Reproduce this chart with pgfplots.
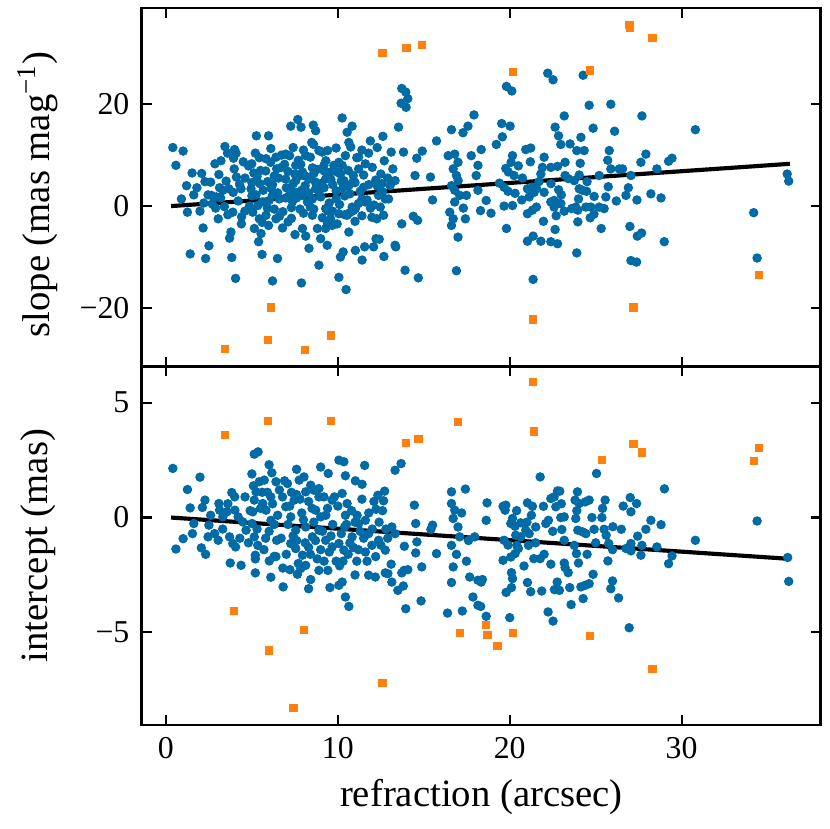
\documentclass[border=0pt]{standalone}
\usepackage{fontspec}
\setmainfont{Liberation Serif}
\usepackage{pgfplots}
\usepackage{pgfplotstable}
\pgfplotsset{compat=1.18}

\definecolor{cblue}{RGB}{0,107,164}
\definecolor{corange}{RGB}{255,128,14}

% slope vs refraction, main sample
\pgfplotstableread[row sep=\\]{x y\\
0.40 11.5\\ 1.00 10.8\\ 0.58 8.0\\ 1.52 6.5\\ 2.08 6.4\\ 2.27 4.8\\ 1.62 2.2\\ 1.25 -1.2\\ 1.98 -1.0\\ 2.16 -4.3\\
2.50 -7.8\\ 1.41 -9.4\\ 2.31 -10.3\\ 2.85 8.3\\ 3.08 6.2\\ 3.43 11.7\\ 3.58 10.4\\ 3.99 11.1\\ 4.08 10.4\\ 3.93 9.4\\
3.97 7.3\\ 3.12 3.6\\ 3.31 3.1\\ 3.66 3.4\\ 3.91 2.7\\ 4.28 4.3\\ 4.37 3.4\\ 2.45 2.2\\ 2.64 2.1\\ 2.93 1.8\\
3.18 1.6\\ 2.89 -0.4\\ 3.04 -2.5\\ 3.60 -1.7\\ 3.89 -1.2\\ 3.78 -5.1\\ 3.70 -6.3\\ 4.39 -3.5\\ 3.83 -10.1\\ 4.05 -14.2\\
4.59 -1.0\\ 4.86 0.0\\ 5.20 10.4\\ 5.26 13.8\\ 5.97 13.8\\ 4.99 8.3\\ 5.11 6.5\\ 5.43 9.5\\ 5.82 9.3\\ 6.09 8.6\\
6.40 9.6\\ 6.72 10.0\\ 6.97 10.2\\ 7.26 15.7\\ 7.67 17.0\\ 7.86 15.5\\ 7.40 11.5\\ 7.19 9.9\\ 7.55 8.0\\ 7.84 8.2\\
7.94 6.7\\ 8.13 9.9\\ 8.48 12.5\\ 8.57 15.9\\ 8.71 14.8\\ 8.59 12.1\\ 8.90 10.9\\ 9.09 10.6\\ 9.40 10.9\\ 9.19 8.0\\
8.52 7.5\\ 8.32 5.3\\ 7.80 6.0\\ 7.55 5.0\\ 7.26 3.1\\ 6.97 5.3\\ 6.55 5.5\\ 6.44 7.3\\ 5.92 4.8\\ 5.47 4.4\\
4.95 3.4\\ 5.24 2.2\\ 5.66 3.1\\ 6.11 3.5\\ 6.20 2.1\\ 6.59 1.4\\ 6.97 1.6\\ 7.36 0.9\\ 7.55 2.7\\ 7.94 2.1\\
8.23 0.8\\ 8.52 1.4\\ 8.71 3.4\\ 9.00 4.4\\ 9.29 5.3\\ 9.58 6.7\\ 9.77 8.0\\ 10.06 8.6\\ 10.25 17.3\\ 10.54 14.5\\
10.83 15.7\\ 10.64 12.5\\ 10.75 11.6\\ 10.44 9.9\\ 10.25 8.0\\ 10.15 6.3\\ 10.35 5.0\\ 10.64 4.0\\ 10.92 5.0\\ 11.21 7.3\\
11.21 9.6\\ 11.60 8.3\\ 11.79 10.4\\ 11.89 12.8\\ 12.29 11.5\\ 12.62 13.7\\ 13.10 10.6\\ 13.53 15.5\\ 13.82 10.6\\ 13.72 23.1\\
13.95 22.4\\ 14.07 21.1\\ 13.68 20.2\\ 13.97 19.4\\ 14.59 9.4\\ 14.91 10.8\\ 14.49 6.0\\ 15.39 5.7\\ 15.74 12.8\\ 16.61 15.0\\
17.28 14.4\\ 17.57 15.7\\ 17.92 17.9\\ 16.42 9.9\\ 16.80 10.2\\ 16.99 8.6\\ 16.71 7.3\\ 16.90 6.0\\ 16.61 4.0\\ 17.09 2.1\\
16.80 0.8\\ 17.48 2.1\\ 17.76 9.9\\ 18.34 11.1\\ 18.15 8.0\\ 18.05 6.0\\ 18.15 3.1\\ 18.63 1.1\\ 15.51 1.2\\
5.34 0.1\\ 5.05 -1.2\\ 5.43 -2.5\\ 5.82 -1.8\\ 5.14 -4.4\\ 5.53 -5.4\\ 5.39 -7.0\\ 5.59 -9.5\\ 6.49 -10.3\\ 6.20 -14.7\\
5.97 -3.8\\ 6.40 -2.5\\ 6.78 -4.3\\ 7.11 -3.1\\ 7.51 -5.6\\ 7.94 -4.4\\ 8.13 -5.9\\ 8.32 -8.3\\ 8.52 -1.8\\ 8.81 -4.4\\
9.00 -6.4\\ 9.29 -4.4\\ 9.38 -7.7\\ 8.90 -11.6\\ 7.88 -15.1\\ 9.29 -0.5\\ 9.58 -2.5\\ 9.67 -3.8\\ 9.96 -3.5\\ 10.06 -1.5\\
10.64 -5.1\\ 10.54 -1.8\\ 10.83 -0.2\\ 11.02 -0.5\\ 11.41 1.4\\ 11.60 0.8\\ 11.98 -2.2\\ 12.27 -2.5\\ 12.47 -0.2\\ 12.66 -1.8\\
12.76 1.4\\ 12.95 1.4\\ 12.37 2.1\\ 12.56 4.4\\ 13.04 4.0\\ 13.33 5.0\\ 12.22 -6.4\\ 12.41 -6.5\\ 12.08 -8.0\\ 11.02 -8.7\\
11.56 -8.0\\ 12.68 -9.9\\ 13.33 -7.7\\ 13.37 -8.0\\ 13.72 -3.5\\ 14.39 -2.0\\ 14.64 -2.8\\ 10.31 -9.0\\ 10.15 -10.0\\ 10.06 -14.0\\
10.48 -16.4\\ 11.41 -10.6\\ 13.91 -12.6\\ 14.68 -14.1\\ 16.90 -12.7\\ 16.99 -6.1\\ 16.61 -3.8\\ 16.71 -2.5\\ 16.51 -1.2\\ 17.42 -2.5\\
4.6 5.5\\ 4.8 7.9\\ 5.0 2.0\\ 5.3 5.8\\ 5.6 0.8\\ 5.8 6.9\\ 6.0 1.1\\ 6.2 4.2\\ 6.3 -0.6\\ 6.5 2.6\\
6.7 7.6\\ 6.8 -1.1\\ 7.0 3.6\\ 7.1 6.8\\ 7.3 -0.3\\ 7.4 4.4\\ 7.6 1.6\\ 7.7 9.0\\ 7.9 3.1\\ 8.0 -1.4\\
8.1 5.9\\ 8.3 2.6\\ 8.4 9.6\\ 8.6 -0.6\\ 8.7 4.7\\ 8.8 7.2\\ 9.0 1.8\\ 9.1 -2.3\\ 9.2 3.6\\ 9.3 8.9\\
9.5 0.6\\ 9.6 5.2\\ 9.7 -1.0\\ 9.9 3.0\\ 10.0 6.6\\ 10.1 0.3\\ 10.3 3.6\\ 10.4 -1.7\\ 10.6 7.0\\ 10.7 2.4\\
10.9 -0.9\\ 11.0 4.6\\ 11.1 9.5\\ 11.3 2.9\\ 11.4 -1.9\\ 11.5 6.1\\ 11.7 1.2\\ 11.8 4.2\\ 12.0 7.6\\ 12.1 0.2\\
12.3 3.9\\ 12.5 6.3\\ 12.7 8.9\\ 12.9 5.5\\ 13.2 7.3\\ 3.5 4.9\\ 4.2 1.0\\ 4.4 -2.1\\ 3.4 -0.1\\ 2.7 0.4\\
2.2 0.6\\ 1.8 3.6\\
5.0 4.6\\ 5.5 7.0\\ 5.9 -0.4\\ 6.3 5.9\\ 6.6 -2.0\\ 6.9 8.2\\ 7.2 2.2\\ 7.5 6.3\\ 7.8 -0.6\\ 8.1 4.0\\
8.4 -0.2\\ 8.6 6.4\\ 8.9 2.8\\ 9.2 6.9\\ 9.4 -0.9\\ 9.7 4.2\\ 9.9 1.4\\ 10.2 4.9\\ 10.4 2.0\\ 10.7 -1.3\\
10.9 6.0\\ 11.2 0.5\\ 11.5 3.7\\ 11.9 -0.4\\ 12.2 5.1\\ 12.6 2.8\\ 4.1 5.7\\ 4.5 8.7\\ 3.2 8.9\\ 2.6 4.7\\
1.2 4.0\\ 0.9 1.4\\ 6.1 11.3\\ 8.0 11.0\\ 9.9 11.4\\ 11.4 11.0\\ 5.6 -3.2\\ 7.3 -2.4\\ 9.4 -3.4\\ 11.0 -3.0\\
18.91 -1.4\\ 19.22 12.1\\ 19.53 16.2\\ 19.57 13.6\\ 20.02 15.7\\ 19.81 23.5\\ 20.12 22.6\\ 19.77 7.4\\ 19.92 6.7\\ 20.16 9.9\\
20.08 8.6\\ 20.25 6.0\\ 19.67 3.7\\ 19.67 0.0\\ 20.16 0.1\\ 20.31 2.5\\ 19.81 -4.4\\ 20.74 5.5\\ 20.93 11.1\\ 21.22 11.4\\
21.03 3.4\\ 21.13 1.8\\ 21.32 3.7\\ 21.55 3.5\\ 21.42 2.7\\ 21.03 -1.5\\ 21.32 -0.8\\ 21.55 -0.2\\ 21.81 6.3\\ 21.90 7.6\\
22.00 2.7\\ 21.96 -3.0\\ 21.03 -6.9\\ 21.36 -5.9\\ 21.81 -6.9\\ 21.36 -14.4\\ 22.21 26.1\\ 22.52 24.8\\ 22.39 7.6\\ 22.78 7.8\\
22.84 3.2\\ 22.64 15.5\\ 22.84 13.8\\ 22.97 12.1\\ 23.22 8.6\\ 23.17 17.7\\ 23.22 6.0\\ 22.39 0.8\\ 22.58 1.1\\ 22.78 0.5\\
22.97 0.5\\ 22.58 -0.2\\ 23.17 -1.0\\ 22.64 -4.6\\ 22.39 -7.0\\ 22.78 -7.4\\ 23.75 5.0\\ 24.04 6.1\\ 23.51 12.2\\ 23.90 10.9\\
24.14 13.5\\ 24.27 25.7\\ 24.62 19.8\\ 24.85 15.3\\ 24.33 10.9\\ 24.04 3.4\\ 24.23 3.1\\ 24.47 2.9\\ 24.00 1.4\\ 23.84 -0.2\\
23.96 -0.8\\ 24.43 -0.2\\ 24.72 -0.2\\ 24.91 1.9\\ 25.20 -0.2\\ 25.49 -0.5\\ 25.59 1.8\\ 25.73 3.8\\ 23.96 -3.1\\ 24.68 -2.3\\
25.32 -4.4\\ 23.90 -9.2\\ 25.88 20.0\\ 26.10 14.7\\ 25.79 10.9\\ 25.88 7.3\\ 26.37 7.3\\ 26.56 7.3\\ 26.76 2.1\\ 27.05 6.0\\
27.69 17.7\\ 27.63 8.6\\ 27.92 10.2\\ 28.21 2.4\\ 28.56 7.3\\ 28.80 1.6\\ 29.24 8.8\\ 29.44 9.4\\ 26.99 -4.0\\ 27.42 -5.9\\
27.67 -5.3\\ 27.05 -10.7\\ 27.38 -11.0\\ 28.99 -7.0\\ 30.80 15.0\\ 34.19 -1.3\\ 34.39 -10.2\\ 36.14 6.3\\ 36.23 4.9\\
19.4 4.5\\ 19.9 2.9\\ 20.5 7.9\\ 20.7 1.2\\ 21.2 8.7\\ 21.7 4.8\\ 22.0 9.6\\ 22.4 4.4\\ 22.7 -1.9\\ 23.0 2.2\\
23.4 5.4\\ 23.6 -0.5\\ 24.1 8.4\\ 24.5 4.8\\ 24.9 -1.6\\ 25.2 6.0\\ 25.7 9.0\\ 26.2 1.0\\ 26.9 3.6\\ 27.4 1.2\\
17.0 5.0\\ 16.8 3.1\\ 17.3 -0.4\\ 18.3 -0.9\\
}\slopemain

% slope outliers
\pgfplotstableread[row sep=\\]{x y\\
3.45 -28.1\\ 5.95 -26.3\\ 6.1 -19.9\\ 8.1 -28.2\\ 9.6 -25.4\\ 12.6 30.0\\ 14.0 31.0\\ 14.9 31.7\\
20.2 26.4\\ 21.35 -22.3\\ 24.65 26.6\\ 26.96 35.5\\ 27.0 35.0\\ 27.2 -19.9\\ 28.3 33.0\\ 34.5 -13.5\\
}\slopeout

% intercept vs refraction, main sample
\pgfplotstableread[row sep=\\]{x y\\
0.40 2.14\\ 0.58 -1.37\\ 1.00 -0.92\\ 1.25 1.22\\ 1.41 0.42\\ 1.54 -0.70\\ 1.62 -0.26\\ 1.98 1.76\\ 2.06 -1.32\\ 2.31 -1.60\\
2.12 0.44\\ 2.27 0.76\\ 2.50 -0.33\\ 2.45 -0.84\\ 2.83 -0.70\\ 3.08 0.61\\ 3.12 0.32\\ 3.31 0.03\\ 3.55 0.25\\ 3.04 -0.99\\
3.70 -0.84\\ 3.89 -1.13\\ 4.05 -1.28\\ 3.74 -1.98\\ 4.37 -2.08\\ 3.83 1.09\\ 4.01 0.32\\ 4.20 0.03\\ 4.47 -0.19\\ 4.66 -0.55\\
5.14 2.76\\ 5.36 2.86\\ 5.09 1.38\\ 5.24 1.12\\ 5.43 1.56\\ 5.72 1.63\\ 6.16 1.95\\ 6.40 1.56\\ 5.14 0.76\\ 5.63 0.61\\
5.82 0.32\\ 6.11 -0.12\\ 5.05 0.25\\ 5.01 -0.26\\ 5.14 -0.84\\ 5.34 -1.21\\ 5.20 -1.64\\ 5.20 -2.41\\ 6.01 -1.89\\ 6.30 -1.69\\
6.44 -0.99\\ 6.82 -3.02\\ 6.78 0.90\\ 7.07 1.48\\ 6.97 0.47\\ 7.26 0.03\\ 7.46 0.76\\ 7.55 -0.55\\ 7.26 -1.13\\ 7.55 -1.35\\
7.94 -1.64\\ 7.75 1.63\\ 8.03 1.77\\ 8.13 1.12\\ 8.42 1.41\\ 8.61 1.19\\ 8.90 1.26\\ 8.71 0.32\\ 9.00 0.03\\ 9.19 0.90\\
9.44 1.92\\ 9.67 0.76\\ 10.06 2.50\\ 10.35 2.43\\ 10.44 1.82\\ 10.25 1.05\\ 10.54 0.61\\ 10.44 0.10\\ 8.13 -0.41\\ 8.52 -0.84\\
8.90 -0.55\\ 9.29 -0.99\\ 9.67 -1.28\\ 10.06 -1.13\\ 10.35 -1.42\\ 10.83 -0.84\\ 11.12 0.10\\ 11.21 -0.26\\ 11.60 -0.12\\ 11.79 -0.70\\
11.98 -1.21\\ 12.37 -0.99\\ 12.76 -1.42\\ 13.14 -0.41\\ 13.33 -0.70\\ 12.33 0.97\\ 12.72 1.15\\ 12.66 0.73\\ 12.22 0.36\\ 11.02 1.60\\
11.41 1.45\\ 11.56 2.27\\ 13.33 2.06\\ 13.68 2.35\\ 14.45 0.54\\ 14.53 -0.26\\ 14.60 -1.06\\ 14.53 -1.54\\ 14.88 -2.15\\ 15.41 -0.52\\
15.51 -0.33\\ 15.74 -1.57\\ 13.87 -1.25\\ 13.10 -2.03\\ 13.85 -2.30\\ 14.07 -2.27\\ 13.72 -2.41\\ 13.81 -2.98\\ 13.49 -3.17\\ 12.91 -2.44\\
13.14 -2.81\\ 12.76 -2.41\\ 12.18 -2.59\\ 11.79 -2.51\\ 10.44 -3.46\\ 10.64 -3.87\\ 10.06 -2.95\\ 10.25 -2.81\\ 9.54 -3.05\\ 9.42 -2.30\\
8.90 -2.30\\ 8.42 -2.70\\ 8.13 -2.08\\ 7.84 -2.22\\ 7.65 -2.47\\ 7.21 -2.27\\ 13.95 -3.97\\ 14.84 -3.63\\ 16.61 1.12\\ 17.42 1.24\\
16.61 0.61\\ 16.80 0.32\\ 16.71 -0.04\\ 16.99 -0.41\\ 17.09 -0.84\\ 16.61 -1.21\\ 16.71 -2.15\\ 16.61 -2.83\\ 17.48 -1.90\\ 17.67 -2.59\\
18.15 -2.73\\ 18.34 -2.81\\ 17.86 -3.46\\ 18.15 -3.82\\ 18.63 -4.30\\ 16.38 -4.16\\ 17.24 -4.07\\ 17.96 -0.84\\ 18.63 -0.12\\ 18.68 0.64\\
4.6 0.9\\ 4.8 -1.1\\ 5.0 1.9\\ 5.3 -0.5\\ 5.5 0.4\\ 5.7 -1.4\\ 5.9 1.1\\ 6.0 -0.6\\ 6.2 0.6\\ 6.4 -1.7\\
6.5 0.1\\ 6.7 -0.9\\ 6.9 1.6\\ 7.0 -1.6\\ 7.2 0.5\\ 7.4 -0.8\\ 7.6 1.0\\ 7.7 -2.0\\ 7.9 0.2\\ 8.1 -1.1\\
8.3 0.7\\ 8.4 -1.6\\ 8.6 -0.2\\ 8.8 -1.8\\ 8.9 0.9\\ 9.1 -0.6\\ 9.2 -1.9\\ 9.4 0.4\\ 9.5 -1.5\\ 9.7 -0.3\\
9.9 -1.9\\ 10.0 0.5\\ 10.2 -0.7\\ 10.3 -1.9\\ 10.5 -0.3\\ 10.6 -1.6\\ 10.8 0.3\\ 10.9 -1.3\\ 11.1 -1.9\\ 11.3 -0.6\\
11.4 0.8\\ 11.6 -1.5\\ 11.8 0.2\\ 12.0 -0.5\\ 12.2 -1.7\\ 12.4 -0.2\\ 12.6 0.3\\ 12.9 -0.9\\ 3.3 -0.5\\ 3.6 0.6\\
2.6 0.1\\ 4.3 -0.9\\ 4.0 0.9\\
4.9 0.3\\ 5.2 -1.8\\ 5.6 1.1\\ 5.8 -0.9\\ 6.1 0.9\\ 6.3 -0.3\\ 6.6 1.2\\ 6.8 -2.2\\ 7.1 -0.3\\ 7.3 1.1\\
7.6 -1.0\\ 7.8 0.8\\ 8.0 -0.1\\ 8.3 -1.3\\ 8.5 0.4\\ 8.7 -1.0\\ 9.0 -1.4\\ 9.3 0.1\\ 9.6 -0.8\\ 9.8 0.9\\
10.1 -2.1\\ 10.4 -0.4\\ 10.7 -1.1\\ 11.0 -0.2\\ 11.2 -1.4\\ 11.5 -0.9\\ 11.7 -1.9\\ 12.1 0.7\\ 12.5 -1.2\\ 12.8 -0.5\\
6.0 2.3\\ 7.6 2.1\\ 9.0 2.2\\ 8.3 -3.1\\ 6.1 -2.6\\ 11.0 -2.5\\
18.41 -2.70\\ 18.31 -3.87\\ 20.00 -4.36\\ 19.61 0.49\\ 19.73 0.32\\ 19.77 0.54\\ 20.16 -0.04\\ 20.06 -0.26\\ 20.31 -0.38\\ 20.64 -0.23\\
21.03 0.64\\ 21.32 0.49\\ 21.26 0.10\\ 21.77 1.77\\ 21.96 0.49\\ 19.67 -0.99\\ 20.35 -0.77\\ 20.64 -0.84\\ 20.93 -0.55\\ 21.13 -0.70\\
21.51 -0.41\\ 20.41 -1.21\\ 20.50 -1.35\\ 20.31 -1.57\\ 20.06 -1.72\\ 19.61 -1.86\\ 21.09 -1.21\\ 21.40 -1.79\\ 21.77 -1.79\\ 20.83 -2.11\\
20.10 -2.40\\ 20.16 -2.66\\ 20.10 -3.05\\ 19.79 -3.26\\ 21.03 -2.83\\ 21.22 -3.23\\ 21.86 -3.20\\ 22.23 -4.11\\ 22.52 -4.51\\ 22.10 -0.26\\
22.25 -0.12\\ 22.39 0.83\\ 22.58 0.90\\ 22.78 1.16\\ 22.91 1.15\\ 22.68 0.47\\ 22.97 0.00\\ 23.17 0.03\\ 23.03 -0.52\\ 23.17 -0.99\\
23.75 -1.21\\ 23.88 -1.57\\ 24.00 -1.98\\ 22.39 -2.03\\ 23.17 -1.98\\ 23.22 -2.18\\ 22.76 -2.81\\ 22.89 -3.17\\ 22.60 -3.14\\ 23.49 -3.05\\
24.14 -3.02\\ 24.39 -2.95\\ 24.62 -2.88\\ 24.85 -2.47\\ 24.27 -3.53\\ 23.57 -3.79\\ 23.84 -0.04\\ 23.96 -0.55\\ 24.23 -0.62\\ 24.43 -0.70\\
24.91 -0.51\\ 25.49 -0.51\\ 25.61 -0.77\\ 25.76 -1.13\\ 25.98 -1.40\\ 25.71 -1.89\\ 23.94 1.12\\ 23.80 0.76\\ 24.04 0.61\\ 24.39 0.68\\
24.62 0.76\\ 24.78 0.00\\ 25.36 0.00\\ 25.55 0.76\\ 25.05 1.92\\ 25.98 -2.76\\ 25.88 -3.10\\ 26.33 -3.50\\ 26.49 -0.51\\ 26.76 -1.35\\
27.05 -1.13\\ 27.05 -1.45\\ 27.05 0.25\\ 27.01 0.87\\ 27.38 0.61\\ 27.44 -0.81\\ 27.69 -1.21\\ 27.63 -1.64\\ 27.92 -0.51\\ 28.21 -0.12\\
28.56 -1.28\\ 28.80 -0.31\\ 29.00 1.25\\ 29.24 -2.01\\ 29.44 -1.67\\ 26.95 -4.80\\ 30.80 -0.99\\ 34.39 -0.15\\ 36.17 -1.74\\ 36.23 -2.78\\
19.9 -1.2\\ 20.4 0.3\\ 21.0 -0.2\\ 21.5 -1.1\\ 22.0 -1.6\\ 22.5 -0.6\\ 23.0 0.6\\ 23.4 -2.4\\ 23.9 0.3\\ 24.5 -1.6\\
25.0 -1.1\\ 25.4 0.4\\ 26.0 -0.4\\ 26.6 0.5\\ 16.9 -1.6\\ 17.2 0.2\\ 17.6 -1.0\\
}\intmain

% intercept outliers
\pgfplotstableread[row sep=\\]{x y\\
3.45 3.58\\ 5.95 4.19\\ 9.6 4.2\\ 17.0 4.16\\ 13.97 3.24\\ 14.7 3.43\\ 3.97 -4.07\\ 8.04 -4.9\\ 6.0 -5.79\\ 12.6 -7.21\\
7.42 -8.29\\ 17.1 -5.03\\ 18.6 -4.68\\ 18.7 -5.13\\ 21.35 5.9\\ 21.4 3.75\\ 27.2 3.21\\ 27.7 2.83\\ 25.36 2.52\\ 34.5 3.04\\
34.2 2.47\\ 19.28 -5.6\\ 20.2 -5.02\\ 24.65 -5.17\\ 28.3 -6.59\\
}\intout

\pgfplotsset{
  panel/.style={
    width=245.5pt, height=129.6pt, scale only axis,
    xmin=-1.4, xmax=38.1,
    xtick={0,10,20,30},
    tick pos=both, tick align=inside,
    major tick length=3.6pt,
    every tick/.style={black, line width=0.8pt},
    axis line style={line width=1pt},
    tick label style={font=\fontsize{11.5}{13}\selectfont},
    yticklabel style={xshift=-1pt},
    xticklabel style={yshift=-1pt},
  },
  blue pts/.style={only marks, mark=*, mark size=1.5pt, color=cblue},
  orange pts/.style={only marks, mark=square*, mark size=1.3pt, color=corange},
}

\begin{document}
\begin{tikzpicture}
\begin{axis}[panel, name=top,
    ymin=-31.5, ymax=38.9,
    ytick={-20,0,20}, yticklabels={−20,0,20},
    xticklabels={},
    ylabel={slope (mas mag\textsuperscript{−1})},
    every axis y label/.style={at={(axis description cs:-0.153,0.48)}, rotate=90, anchor=center,
      font=\fontsize{14}{16}\selectfont},
  ]
  \addplot[blue pts] table {\slopemain};
  \addplot[orange pts] table {\slopeout};
  \addplot[black, line width=1.5pt] coordinates {(0.3,0) (36.3,8.3)};
\end{axis}
\begin{axis}[panel, name=bottom,
    at={(top.south west)}, anchor=north west,
    ymin=-9.03, ymax=6.58,
    ytick={-5,0,5}, yticklabels={−5,0,5},
    xticklabels={0,10,20,30},
    ylabel={intercept (mas)},
    every axis y label/.style={at={(axis description cs:-0.153,0.5)}, rotate=90, anchor=center,
      font=\fontsize{14}{16}\selectfont},
    xlabel={refraction (arcsec)},
    every axis x label/.style={at={(axis description cs:0.5,-0.2)}, anchor=center,
      font=\fontsize{14}{16}\selectfont},
  ]
  \addplot[blue pts] table {\intmain};
  \addplot[orange pts] table {\intout};
  \addplot[black, line width=1.5pt] coordinates {(0.3,0) (36.3,-1.8)};
\end{axis}
\pgfresetboundingbox
\path[use as bounding box] ([shift={(-51.3pt,-37.6pt)}]bottom.south west) rectangle ([shift={(3.3pt,2.9pt)}]top.north east);
\end{tikzpicture}
\end{document}
